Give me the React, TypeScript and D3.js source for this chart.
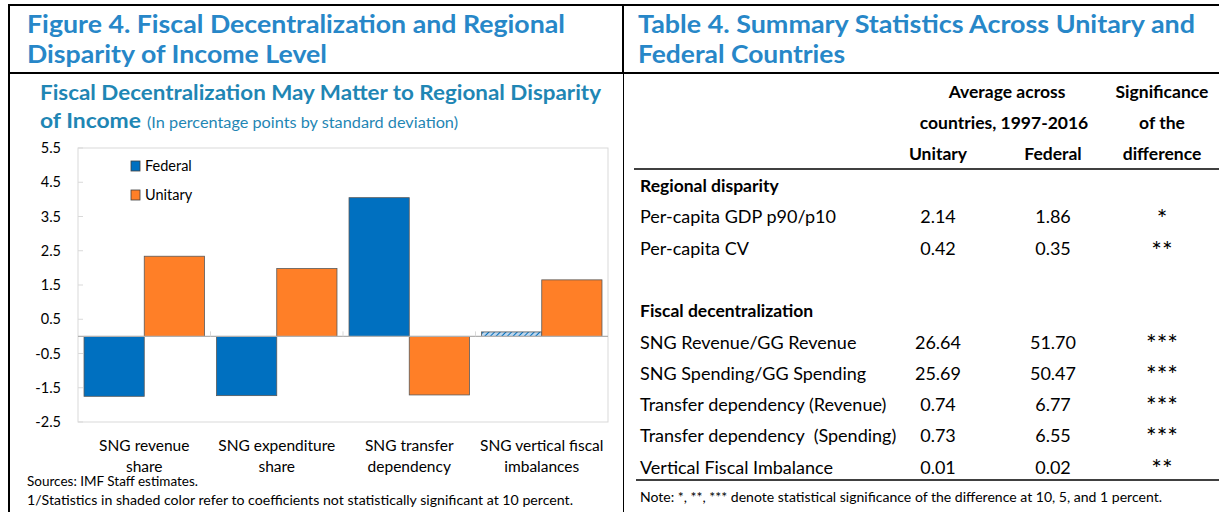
import React from "react";
import * as d3 from "d3";

// chart data
const categories = [
  ["SNG revenue", "share"],
  ["SNG expenditure", "share"],
  ["SNG transfer", "dependency"],
  ["SNG vertical fiscal", "imbalances"],
];
const seriesNames = ["Federal", "Unitary"];
const federal = [-1.75, -1.73, 4.05, 0.13];
const unitary = [2.34, 1.98, -1.71, 1.65];
const federalSignificant = [true, true, true, false];
const yTicks = [-2.5, -1.5, -0.5, 0.5, 1.5, 2.5, 3.5, 4.5, 5.5];

// table data
const disparityRows = ["Per-capita GDP p90/p10", "Per-capita CV"];
const disparityUnitary = ["2.14", "0.42"];
const disparityFederal = ["1.86", "0.35"];
const disparitySig = ["*", "**"];
const fiscalRows = [
  "SNG Revenue/GG Revenue",
  "SNG Spending/GG Spending",
  "Transfer dependency (Revenue)",
  "Transfer dependency  (Spending)",
  "Vertical Fiscal Imbalance",
];
const fiscalUnitary = ["26.64", "25.69", "0.74", "0.73", "0.01"];
const fiscalFederal = ["51.70", "50.47", "6.77", "6.55", "0.02"];
const fiscalSig = ["***", "***", "***", "***", "**"];

const W = 1219;
const H = 512;
const FONT = "Lato, 'Open Sans', sans-serif";
const titleBlue = "#2787C8";
const subBlue = "#1F86B4";
const colors = { Federal: "#0070C0", Unitary: "#FF7F27" };

export default function App() {
  const plot = { left: 78, right: 608, top: 148, bottom: 422 };

  const x0 = d3
    .scaleBand<number>()
    .domain(d3.range(categories.length))
    .range([plot.left, plot.right]);
  const x1 = d3
    .scaleBand<string>()
    .domain(seriesNames)
    .range([0, x0.bandwidth()])
    .paddingOuter(0.1);
  const y = d3.scaleLinear().domain([-2.5, 5.5]).range([plot.bottom, plot.top]);

  const bars = categories.flatMap((c, i) => [
    { i, key: "Federal", v: federal[i], sig: federalSignificant[i] },
    { i, key: "Unitary", v: unitary[i], sig: true },
  ]);

  const rowY = (i: number) => 192 + 31.3 * i;
  const colU = 938;
  const colF = 1053;
  const colS = 1162;

  return (
    <svg
      width={W}
      height={H}
      style={{ position: "absolute", left: 0, top: 0, background: "white" }}
      fontFamily={FONT}
    >
      <defs>
        <pattern
          id="hatch"
          width="4"
          height="4"
          patternUnits="userSpaceOnUse"
          patternTransform="rotate(45)"
        >
          <rect width="4" height="4" fill="#BDD7EE" />
          <line x1="0" y1="0" x2="0" y2="4" stroke="#0070C0" strokeWidth="2" />
        </pattern>
      </defs>

      {/* frame lines */}
      <line x1={9} x2={W} y1={5} y2={5} stroke="#000" strokeWidth={2} />
      <line x1={9} x2={9} y1={4} y2={H} stroke="#000" strokeWidth={2} />
      <line x1={9} x2={W} y1={73} y2={73} stroke="#000" strokeWidth={2} />
      <line x1={623} x2={623} y1={4} y2={73} stroke="#000" strokeWidth={2} />
      <line x1={623.5} x2={623.5} y1={73} y2={H} stroke="#000" strokeWidth={1} />

      {/* left header */}
      <text x={27} y={33} fontSize={24} fontWeight="bold" fill={titleBlue} textLength={538} lengthAdjust="spacingAndGlyphs">
        Figure 4. Fiscal Decentralization and Regional
      </text>
      <text x={27} y={63} fontSize={24} fontWeight="bold" fill={titleBlue} textLength={300} lengthAdjust="spacingAndGlyphs">
        Disparity of Income Level
      </text>
      <text x={40} y={100} fontSize={20} fontWeight="bold" fill={subBlue} textLength={561} lengthAdjust="spacingAndGlyphs">
        Fiscal Decentralization May Matter to Regional Disparity
      </text>
      <text x={40} y={128} fontSize={20} fontWeight="bold" fill={subBlue} textLength={101} lengthAdjust="spacingAndGlyphs">
        of Income
      </text>
      <text x={147} y={128} fontSize={14.5} fill={subBlue} textLength={311} lengthAdjust="spacingAndGlyphs">
        (In percentage points by standard deviation)
      </text>

      {/* plot frame */}
      <rect
        x={plot.left}
        y={plot.top}
        width={plot.right - plot.left}
        height={plot.bottom - plot.top}
        fill="none"
        stroke="#D9D9D9"
      />

      {/* y axis */}
      {yTicks.map((t) => (
        <g key={t}>
          <line x1={plot.left} x2={plot.left + 5} y1={y(t)} y2={y(t)} stroke="#D9D9D9" />
          <text x={61} y={y(t) + 5} fontSize={14.5} textAnchor="end" fill="#000">
            {t.toFixed(1)}
          </text>
        </g>
      ))}

      {/* bars */}
      {bars.map((b) => (
        <rect
          key={b.key + b.i}
          x={(x0(b.i) as number) + (x1(b.key) as number)}
          y={y(Math.max(0, b.v))}
          width={x1.bandwidth()}
          height={Math.abs(y(b.v) - y(0))}
          fill={b.sig ? colors[b.key as "Federal"] : "url(#hatch)"}
          stroke="#595959"
          strokeWidth={0.8}
        />
      ))}

      {/* zero axis */}
      <line x1={plot.left} x2={plot.right} y1={y(0)} y2={y(0)} stroke="#B0B0B0" strokeWidth={1.2} />
      {d3.range(1, categories.length).map((i) => (
        <line
          key={i}
          x1={x0(i) as number}
          x2={x0(i) as number}
          y1={y(0)}
          y2={y(0) - 5}
          stroke="#D9D9D9"
        />
      ))}

      {/* category labels */}
      {categories.map((c, i) => (
        <text
          key={i}
          x={(x0(i) as number) + x0.bandwidth() / 2}
          y={451}
          fontSize={15.5}
          textAnchor="middle"
          fill="#000"
        >
          <tspan x={(x0(i) as number) + x0.bandwidth() / 2}>{c[0]}</tspan>
          <tspan x={(x0(i) as number) + x0.bandwidth() / 2} dy={21}>
            {c[1]}
          </tspan>
        </text>
      ))}

      {/* legend */}
      {seriesNames.map((s, i) => (
        <g key={s} transform={`translate(131,${161 + i * 29})`}>
          <rect width={9} height={10} fill={colors[s as "Federal"]} stroke="#404040" strokeWidth={0.8} />
          <text x={14} y={10} fontSize={14.5} fill="#000">
            {s}
          </text>
        </g>
      ))}

      <text x={27} y={486} fontSize={13.5} fill="#000">
        Sources: IMF Staff estimates.
      </text>
      <text x={27} y={505} fontSize={13.5} fill="#000" textLength={546} lengthAdjust="spacingAndGlyphs">
        1/Statistics in shaded color refer to coefficients  not statistically significant at 10 percent.
      </text>

      {/* right header */}
      <text x={638} y={33} fontSize={24} fontWeight="bold" fill={titleBlue} textLength={557} lengthAdjust="spacingAndGlyphs">
        Table 4. Summary Statistics Across Unitary and
      </text>
      <text x={638} y={63} fontSize={24} fontWeight="bold" fill={titleBlue} textLength={207} lengthAdjust="spacingAndGlyphs">
        Federal Countries
      </text>

      {/* table header */}
      <g fontSize={17.5} fontWeight="bold" fill="#000" textAnchor="middle">
        <text x={1007} y={98}>Average across</text>
        <text x={1004} y={129}>countries, 1997-2016</text>
        <text x={colU} y={160}>Unitary</text>
        <text x={colF} y={160}>Federal</text>
        <text x={colS} y={98}>Significance</text>
        <text x={colS} y={129}>of the</text>
        <text x={colS} y={160}>difference</text>
      </g>
      <line x1={634} x2={W} y1={169} y2={169} stroke="#000" strokeWidth={1.5} />

      <g fontSize={18} fill="#000">
        <text x={640} y={rowY(0)} fontWeight="bold" fontSize={17.5}>
          Regional disparity
        </text>
        {disparityRows.map((r, i) => (
          <g key={r}>
            <text x={640} y={rowY(i + 1)}>{r}</text>
            <text x={colU} y={rowY(i + 1)} textAnchor="middle">{disparityUnitary[i]}</text>
            <text x={colF} y={rowY(i + 1)} textAnchor="middle">{disparityFederal[i]}</text>
            <text x={colS} y={rowY(i + 1) + 5} textAnchor="middle" fontSize={25}>{disparitySig[i]}</text>
          </g>
        ))}
        <text x={640} y={rowY(4)} fontWeight="bold" fontSize={17.5}>
          Fiscal decentralization
        </text>
        {fiscalRows.map((r, i) => (
          <g key={r}>
            <text x={640} y={rowY(i + 5)} style={{ whiteSpace: "pre" }}>{r}</text>
            <text x={colU} y={rowY(i + 5)} textAnchor="middle">{fiscalUnitary[i]}</text>
            <text x={colF} y={rowY(i + 5)} textAnchor="middle">{fiscalFederal[i]}</text>
            <text x={colS} y={rowY(i + 5) + 4} textAnchor="middle" fontSize={25}>{fiscalSig[i]}</text>
          </g>
        ))}
      </g>
      <line x1={636} x2={W} y1={480} y2={480} stroke="#000" strokeWidth={1.5} />
      <text x={640} y={502} fontSize={12.5} fill="#000" textLength={522} lengthAdjust="spacingAndGlyphs">
        Note:  *, **, *** denote statistical significance of the difference at 10, 5, and 1 percent.
      </text>
    </svg>
  );
}
